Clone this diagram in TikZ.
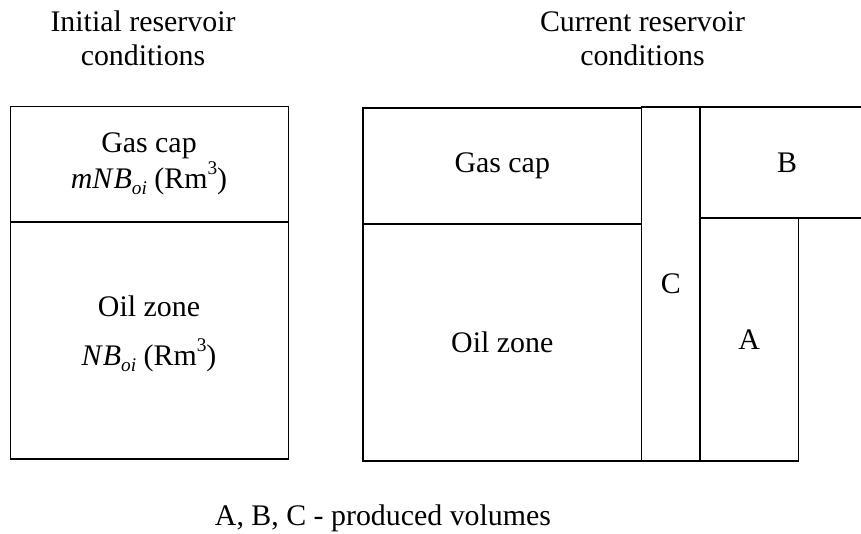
\documentclass[tikz,border=0pt]{standalone}
\usepackage{fontspec}
\setmainfont{Liberation Serif}
\usepackage{tikz}
\usetikzlibrary{positioning}

\newcommand{\Boi}{\textit{B}\raisebox{-0.45ex}{\fontsize{11}{12}\selectfont\textit{oi}}}
\newcommand{\Rmcube}{(Rm\raisebox{0.95ex}{\fontsize{11}{12}\selectfont 3})}

\begin{document}
\begin{tikzpicture}[
  box/.style={draw, line width=0.6pt, inner sep=0pt,
    font=\fontsize{17}{19.4}\selectfont},
  lbl/.style={anchor=base, inner sep=0pt, font=\fontsize{17}{19.4}\selectfont}
]
  \useasboundingbox (0,0) rectangle (17.22,-10.68);

  % titles
  \node[lbl, anchor=center, align=center] (tinit) at (2.86,-0.77) {Initial reservoir\\conditions};
  \node[lbl, anchor=center, align=center] (tcur) at (12.85,-0.77) {Current reservoir\\conditions};

  % initial reservoir
  \node[box, minimum width=5.56cm, minimum height=2.31cm] (gasini) at (2.99,-3.285) {};
  \node[box, minimum width=5.56cm, minimum height=4.74cm] (oilini) at (2.99,-6.81) {};
  \node[lbl] (gasinitxt) at (2.98,-3.04) {Gas cap};
  \node[lbl] (gasinivol) at (2.98,-3.76) {\textit{mN}\Boi{} \Rmcube};
  \node[lbl] (oilinitxt) at (2.98,-6.32) {Oil zone};
  \node[lbl] (oilinivol) at (2.98,-7.30) {\textit{N}\Boi{} \Rmcube};

  % current reservoir
  \node[box, minimum width=5.57cm, minimum height=2.32cm] (gascur) at (10.045,-3.32) {Gas cap};
  \node[box, minimum width=5.57cm, minimum height=4.74cm] (oilcur) at (10.045,-6.85) {Oil zone};
  \node[box, minimum width=1.17cm, minimum height=7.08cm] (volC) at (13.415,-5.68) {C};
  \node[box, minimum width=3.48cm, minimum height=2.22cm] (volB) at (15.74,-3.25) {B};
  \node[box, minimum width=1.97cm, minimum height=4.86cm] (volA) at (14.985,-6.79) {A};

  \node[lbl] (legend) at (7.66,-10.5) {A, B, C - produced volumes};
\end{tikzpicture}
\end{document}
